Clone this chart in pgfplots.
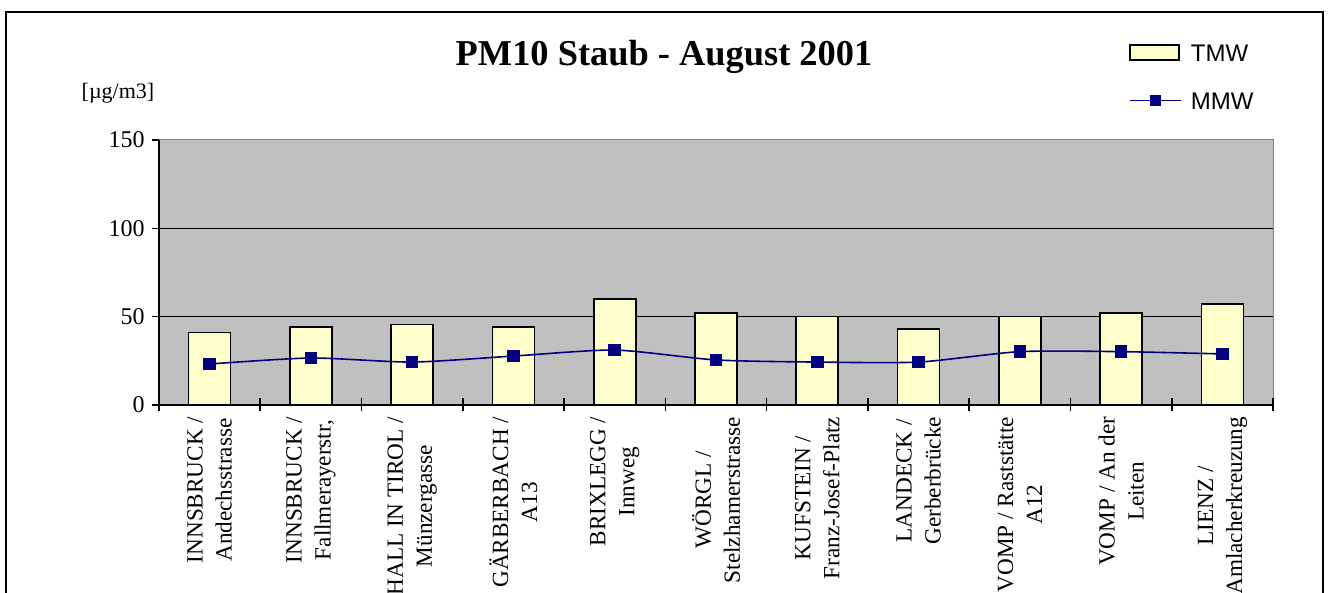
\documentclass[border=0pt]{standalone}
\usepackage{fontspec}
\setmainfont{Liberation Serif}
\newfontfamily\arialf{Liberation Sans}
\usepackage{pgfplots}
\pgfplotsset{compat=1.18}
\definecolor{plotgray}{HTML}{C0C0C0}
\definecolor{baryellow}{HTML}{FFFFCC}
\definecolor{navyblue}{HTML}{000080}
\definecolor{bordergray}{HTML}{808080}
\begin{document}
\begin{tikzpicture}[x=1pt,y=1pt]
\path[use as bounding box] (0,0) rectangle (666.5,296.5);
\draw[line width=1pt] (3,-10) -- (3,290.5) -- (661.5,290.5) -- (661.5,-10);
\node[font=\bfseries\fontsize{18.2}{21}\selectfont, anchor=base] at (332,263.5) {PM10 Staub - August 2001};
\node[font=\fontsize{11}{13}\selectfont] at (59,250) {[µg/m3]};
\begin{axis}[
  at={(79.5pt,94pt)}, anchor=south west,
  width=557pt, height=132.5pt, scale only axis,
  xmin=-0.5, xmax=10.5, ymin=0, ymax=150,
  axis lines*=left,
  axis line style={line width=0.9pt, -},
  axis background/.style={fill=plotgray, draw=bordergray, line width=0.5pt},
  ytick={0,50,100,150},
  ytick align=outside,
  major tick length=3.5pt,
  minor tick length=6.5pt,
  tick style={black, line width=0.8pt},
  /pgf/number format/assume math mode=true,
  yticklabel style={font=\fontsize{12}{14}\selectfont, inner sep=0pt},
  yticklabel shift=3.5pt,
  extra y ticks={50,100},
  extra y tick labels={},
  extra y tick style={grid=major},
  grid style={black, line width=0.7pt},
  xtick={0,...,10},
  major x tick style={draw=none},
  minor xtick={-0.5,0.5,...,10.5},
  xtick align=center,
  xticklabels={{INNSBRUCK /\\Andechsstrasse},{INNSBRUCK /\\Fallmerayerstr,},{HALL IN TIROL /\\Münzergasse},{GÄRBERBACH /\\A13},{BRIXLEGG /\\Innweg},{WÖRGL /\\Stelzhamerstrasse},{KUFSTEIN /\\Franz-Josef-Platz},{LANDECK /\\Gerberbrücke},{VOMP / Raststätte\\A12},{VOMP / An der\\Leiten},{LIENZ /\\Amlacherkreuzung}},
  xticklabel style={rotate=90, anchor=east, align=center, font=\fontsize{11.6}{14.5}\selectfont, inner sep=0pt},
  xticklabel shift=4pt,
  legend style={at={(0.8707,1.377)}, anchor=north west, draw=none, fill=none,
    font=\arialf\fontsize{12}{14}\selectfont, row sep=12pt, inner sep=0pt, column sep=4.5pt,
    nodes={inner sep=0pt, text height=10.3pt, text depth=1.7pt}},
  legend cell align=left,
  clip=false,
]
\addplot[ybar, bar width=21pt, fill=baryellow, draw=black, line width=0.8pt,
  legend image code/.code={\draw[fill=baryellow, draw=black, line width=0.8pt] (0pt,-3.75pt) rectangle (24.5pt,3.75pt);}]
  coordinates {(0,41) (1,44) (2,45.5) (3,44) (4,60) (5,52) (6,50) (7,43) (8,50) (9,52) (10,57)};
\addlegendentry{TMW}
\addplot[navyblue, line width=0.8pt, smooth, tension=0.4, mark=square*, mark size=2.75pt,
  mark options={solid, fill=navyblue, draw=navyblue},
  legend image code/.code={\draw[navyblue, line width=0.8pt, mark=square*, mark size=2.5pt, mark options={fill=navyblue}, mark repeat=2, mark phase=2] plot coordinates {(0pt,0pt) (12.75pt,0pt) (25.5pt,0pt)};}]
  coordinates {(0,23.2) (1,26.6) (2,24.3) (3,27.7) (4,31.1) (5,25.5) (6,24.3) (7,24.3) (8,30.2) (9,30.2) (10,28.9)};
\addlegendentry{MMW}
\end{axis}
\end{tikzpicture}
\end{document}
